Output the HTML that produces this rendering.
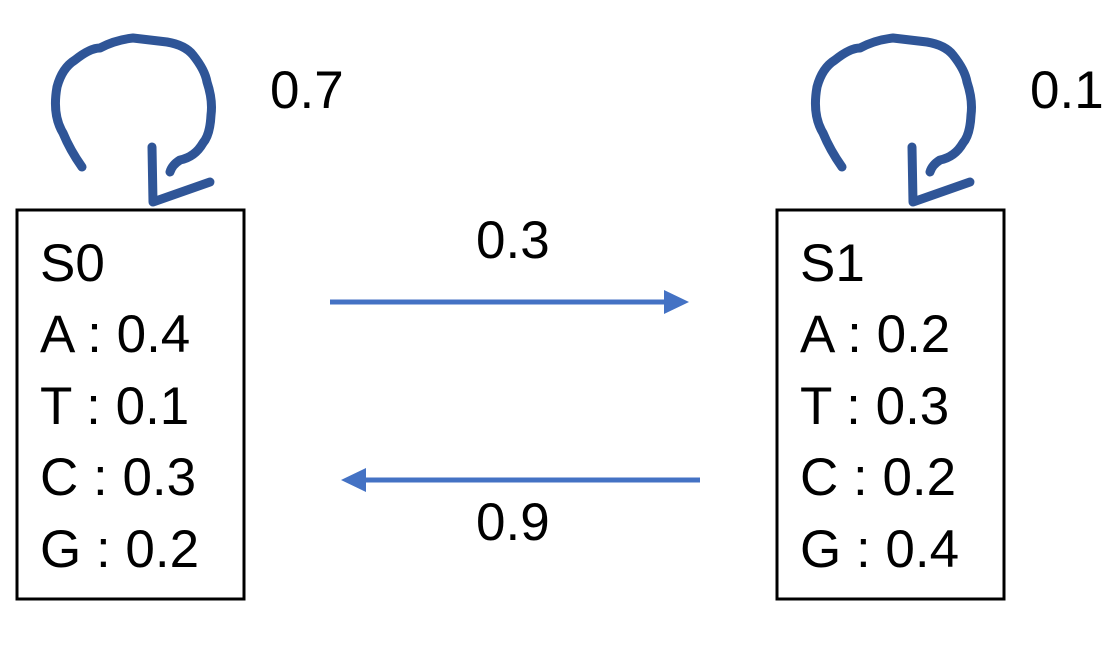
<!DOCTYPE html>
<html><head><meta charset="utf-8"><style>
body{margin:0;background:#fff;width:1117px;height:651px;overflow:hidden}
svg text{font-family:"Liberation Sans",sans-serif;font-size:53px;fill:#000}
</style></head><body>
<svg width="1117" height="651">
<defs>
<marker id="ah" markerWidth="6" markerHeight="6" refX="4" refY="3" orient="auto" markerUnits="strokeWidth"><path d="M0,0.6 L5,3 L0,5.4 z" fill="#4472c4"/></marker>
</defs>
<g>
<g fill="none" stroke="#2f5597" stroke-width="9" stroke-linecap="round" stroke-linejoin="round">
<path d="M82,167 Q70,150 63,133 Q52,115 57,87 Q62,68 75,60 Q90,48 100,48 Q115,40 133,38 L167,42 Q185,45 193,55 Q205,70 207,82 Q213,100 211,115 Q210,135 203,143 Q195,157 180,160 Q172,165 170,172"/>
<path d="M152,147 L153,202 L210,182"/>
</g>
<rect x="17" y="210" width="227" height="389" fill="none" stroke="#000" stroke-width="3"/>
<text x="40" y="281">S0</text>
<text x="40" y="352">A : 0.4</text>
<text x="40" y="424">T : 0.1</text>
<text x="40" y="495">C : 0.3</text>
<text x="40" y="567">G : 0.2</text>
<text x="270" y="108">0.7</text>
</g>
<g transform="translate(760,0)">
<g fill="none" stroke="#2f5597" stroke-width="9" stroke-linecap="round" stroke-linejoin="round">
<path d="M82,167 Q70,150 63,133 Q52,115 57,87 Q62,68 75,60 Q90,48 100,48 Q115,40 133,38 L167,42 Q185,45 193,55 Q205,70 207,82 Q213,100 211,115 Q210,135 203,143 Q195,157 180,160 Q172,165 170,172"/>
<path d="M152,147 L153,202 L210,182"/>
</g>
<rect x="17" y="210" width="227" height="389" fill="none" stroke="#000" stroke-width="3"/>
<text x="40" y="281">S1</text>
<text x="40" y="352">A : 0.2</text>
<text x="40" y="424">T : 0.3</text>
<text x="40" y="495">C : 0.2</text>
<text x="40" y="567">G : 0.4</text>
<text x="270" y="108">0.1</text>
</g>
<line x1="330" y1="302" x2="684" y2="302" stroke="#4472c4" stroke-width="5" marker-end="url(#ah)"/>
<text x="476" y="258">0.3</text>
<line x1="700" y1="480" x2="346" y2="480" stroke="#4472c4" stroke-width="5" marker-end="url(#ah)"/>
<text x="476" y="540">0.9</text>
</svg>
</body></html>
